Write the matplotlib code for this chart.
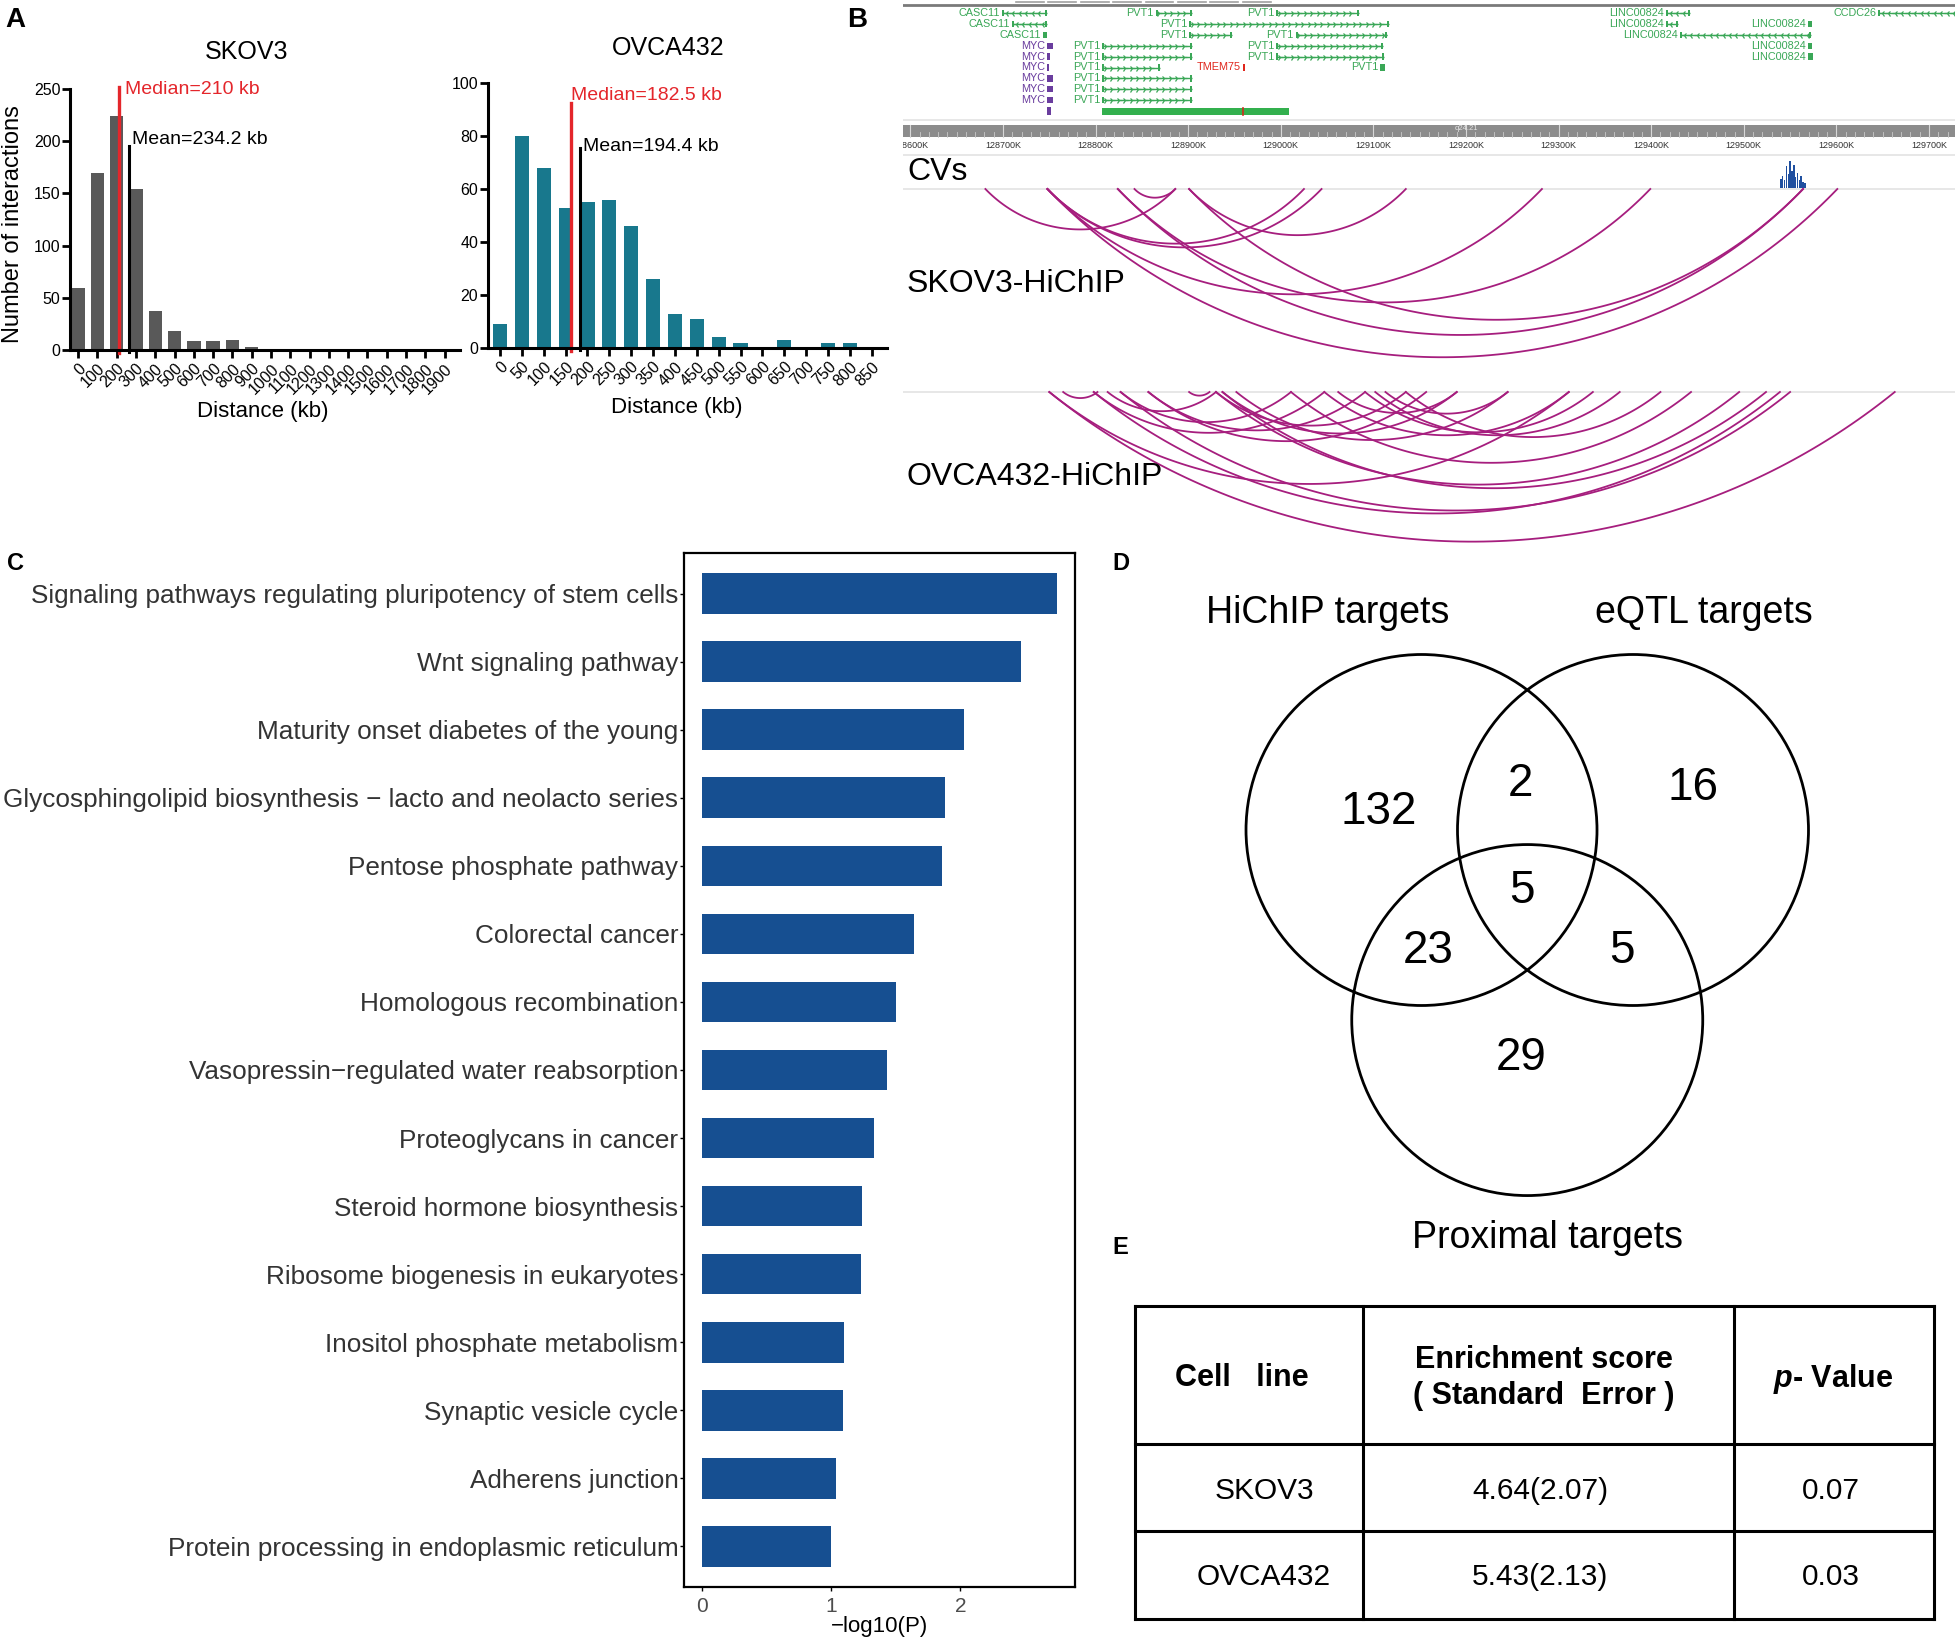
import numpy as np
import matplotlib
matplotlib.use("Agg")
import matplotlib.pyplot as plt
from matplotlib.patches import Circle, Rectangle

plt.rcParams['font.family'] = ['Liberation Sans', 'DejaVu Sans']
plt.rcParams['mathtext.fontset'] = 'custom'
plt.rcParams['mathtext.it'] = 'Liberation Sans:italic:bold'
plt.rcParams['mathtext.rm'] = 'Liberation Sans'

W, H = 1955, 1645

# ---------------- data ----------------
# A: interaction distance histograms
skov3_bins = list(range(0, 2000, 100))
skov3_counts = [59, 170, 224, 154, 37, 18, 9, 9, 10, 3, 0, 1, 1, 1, 0, 0, 0, 0, 0, 0]
skov3_median, skov3_mean = 210, 234.2
skov3_line_pos = [2.12, 2.62]      # where the median / mean bars sit on the bin axis
skov3_line_top = [252, 195]

ovca_bins = list(range(0, 900, 50))
ovca_counts = [9, 80, 68, 53, 55, 56, 46, 26, 13, 11, 4, 2, 0, 3, 0, 2, 2, 0]
ovca_median, ovca_mean = 182.5, 194.4
ovca_line_pos = [3.23, 3.65]
ovca_line_top = [92.4, 75.5]

# B: genome browser (positions in kb on chr8)
genes = [  # name, colour key, row, start, end, strand
    ("CASC11", "g", 0, 128699, 128748, -1), ("PVT1", "g", 0, 128865, 128904, 1),
    ("PVT1", "g", 0, 128995, 129084, 1), ("LINC00824", "g", 0, 129416, 129442, -1),
    ("CCDC26", "g", 0, 129645, 129760, -1),
    ("CASC11", "g", 1, 128710, 128748, -1), ("PVT1", "g", 1, 128901, 129117, 1),
    ("LINC00824", "g", 1, 129416, 129429, -1), ("LINC00824", "g", 1, 129569, 129574, -1),
    ("CASC11", "g", 2, 128743, 128748, -1), ("PVT1", "g", 2, 128901, 128947, 1),
    ("PVT1", "g", 2, 129016, 129115, 1), ("LINC00824", "g", 2, 129431, 129573, -1),
    ("MYC", "p", 3, 128747, 128754, 1), ("PVT1", "g", 3, 128807, 128904, 1),
    ("PVT1", "g", 3, 128995, 129110, 1), ("LINC00824", "g", 3, 129569, 129574, -1),
    ("MYC", "p", 4, 128748, 128751, 1), ("PVT1", "g", 4, 128807, 128904, 1),
    ("PVT1", "g", 4, 128995, 129111, 1), ("LINC00824", "g", 4, 129569, 129575, -1),
    ("MYC", "p", 5, 128748, 128750, 1), ("PVT1", "g", 5, 128807, 128870, 1),
    ("TMEM75", "r", 5, 128959, 128961.5, 1), ("PVT1", "g", 5, 129107.5, 129113, 1),
    ("MYC", "p", 6, 128747, 128754, 1), ("PVT1", "g", 6, 128807, 128904, 1),
    ("MYC", "p", 7, 128747, 128754, 1), ("PVT1", "g", 7, 128807, 128904, 1),
    ("MYC", "p", 8, 128747, 128754, 1), ("PVT1", "g", 8, 128807, 128904, 1),
]
region_bar = (128807, 129008.5)
region_mark = 128959
myc_box = (128747, 128752)
ruler_ticks = list(range(128600, 129800, 100))
top_dashes = [128714, 128749, 128784, 128819, 128854, 128889, 128924, 128959]
cv_pos = [129540, 129542, 129544, 129546, 129548, 129550, 129552, 129554,
          129556, 129558, 129560, 129562, 129564, 129566]
cv_height = [9, 12, 8, 22, 14, 27, 17, 23, 11, 15, 8, 12, 6, 5]
skov3_loops = [(128681, 128886), (128842, 128886), (128748, 129025), (128748, 129044),
               (128901, 129135), (128748, 129282), (128824, 129399), (128901, 129564),
               (128824, 129564), (128748, 129601)]
ovca_loops = [(128765, 128802), (128901, 128923), (128813, 128930), (128827, 129011),
              (128798, 129047), (128857, 129091), (128930, 129135), (128937, 129190),
              (128952, 129245), (129047, 129311), (129062, 129190), (129091, 129337),
              (129102, 129366), (129113, 129245), (129135, 129410), (129011, 129443),
              (128930, 129495), (128937, 129524), (128798, 129539), (128827, 129550),
              (128750, 129663), (128750, 129311), (128857, 129157)]

# C: KEGG enrichment
kegg_terms = ["Signaling pathways regulating pluripotency of stem cells",
              "Wnt signaling pathway",
              "Maturity onset diabetes of the young",
              "Glycosphingolipid biosynthesis \u2212 lacto and neolacto series",
              "Pentose phosphate pathway",
              "Colorectal cancer",
              "Homologous recombination",
              "Vasopressin\u2212regulated water reabsorption",
              "Proteoglycans in cancer",
              "Steroid hormone biosynthesis",
              "Ribosome biogenesis in eukaryotes",
              "Inositol phosphate metabolism",
              "Synaptic vesicle cycle",
              "Adherens junction",
              "Protein processing in endoplasmic reticulum"]
kegg_logp = [2.75, 2.47, 2.03, 1.88, 1.86, 1.64, 1.50, 1.43, 1.33, 1.24, 1.23, 1.10, 1.09, 1.04, 1.00]

# D: Venn
venn_sets = ["HiChIP targets", "eQTL targets", "Proximal targets"]
venn_counts = {"100": 132, "110": 2, "010": 16, "111": 5, "101": 23, "011": 5, "001": 29}

# E: table
table_header = ["Cell   line", "Enrichment score\n( Standard  Error )", "$p$- Value"]
cell_lines = ["SKOV3", "OVCA432"]
enrich_score = [4.64, 5.43]
enrich_se = [2.07, 2.13]
p_values = ["0.07", "0.03"]

fig = plt.figure(figsize=(W / 100, H / 100), dpi=100)


def add_ax(x0, y0, x1, y1):
    return fig.add_axes([x0 / W, 1 - y1 / H, (x1 - x0) / W, (y1 - y0) / H])


def ftext(x, y, s, **kw):
    fig.text(x / W, 1 - y / H, s, **kw)


RED = '#e4262b'

# ---------------- A ----------------
def hist(ax, bins, counts, color, width, xlim, ylim, ybound, yticks, lpos, ltop, med, mean, txt):
    x = np.arange(len(counts))
    ax.bar(x, counts, width=width, color=color)
    ax.set_xlim(*xlim)
    ax.set_ylim(*ylim)
    for s in ['top', 'right']:
        ax.spines[s].set_visible(False)
    for s in ['left', 'bottom']:
        ax.spines[s].set_linewidth(2.2)
    ax.spines['left'].set_bounds(*ybound)
    ax.set_xticks(x)
    ax.set_xticklabels([str(b) for b in bins], rotation=45, ha='right',
                       rotation_mode='anchor', fontsize=11.5)
    ax.set_yticks(yticks)
    ax.tick_params(axis='y', labelsize=11.5, length=6, width=2, pad=1)
    ax.tick_params(axis='x', length=6, width=2, pad=2)
    ax.plot([lpos[0]] * 2, [-ylim[1] * 0.012, ltop[0]], color=RED, lw=2.4, clip_on=False)
    ax.plot([lpos[1]] * 2, [-ylim[1] * 0.006, ltop[1]], color='black', lw=2.2, clip_on=False)
    ax.text(txt[0], txt[1], f"Median={med:g} kb", color=RED, fontsize=14, va='center')
    ax.text(txt[2], txt[3], f"Mean={mean:g} kb", color='black', fontsize=14, va='center')


ax_a1 = add_ax(70, 76.5, 460, 350)
hist(ax_a1, skov3_bins, skov3_counts, '#595959', 0.7, (-0.42, 19.8), (0, 262), (0, 250),
     range(0, 251, 50), skov3_line_pos, skov3_line_top, skov3_median, skov3_mean,
     (2.42, 250, 2.8, 202))
ax_a2 = add_ax(488, 83.3, 887, 348)
hist(ax_a2, ovca_bins, ovca_counts, '#18788d', 0.65, (-0.55, 17.7), (0, 100), (0, 100),
     range(0, 101, 20), ovca_line_pos, ovca_line_top, ovca_median, ovca_mean,
     (3.26, 95.5, 3.78, 76))

ftext(247, 52, "SKOV3", fontsize=18, ha='center', va='center')
ftext(668, 48, "OVCA432", fontsize=18, ha='center', va='center')
ftext(13, 224, "Number of interactions", fontsize=17, rotation=90, ha='center', va='center')
ftext(263, 412, "Distance (kb)", fontsize=16, ha='center', va='center')
ftext(677, 407, "Distance (kb)", fontsize=16, ha='center', va='center')

# ---------------- B ----------------
PX_PER_KB = 0.926
kb_left = 128700 - (1003 - 903) / PX_PER_KB
kb_right = 128700 + (1955 - 1003) / PX_PER_KB
ax_b = add_ax(903, 0, 1955, 545)
ax_b.set_xlim(kb_left, kb_right)
ax_b.set_ylim(545, 0)
ax_b.axis('off')

gcol = {"g": '#3aa757', "p": '#6a3d9e', "r": '#e0261c'}
row_y = lambda r: 13 + 10.9 * r

ax_b.axhline(4.7, color='#7a7a7a', lw=2)
for d in top_dashes:
    ax_b.plot([d, d + 30], [1.6, 1.6], color='#a0a0a0', lw=1.2)

for name, c, r, s, e, strand in genes:
    y = row_y(r)
    col = gcol[c]
    if e - s > 8:
        ax_b.plot([s, e], [y, y], color=col, lw=1.0, solid_capstyle='butt')
        chev = np.arange(s + 4, e - 3, 7)
        ax_b.plot(chev, [y] * len(chev), ls='none', marker='4' if strand > 0 else '3',
                  ms=4.5, mew=0.9, color=col)
        for bx in (s, e - 2.2):
            ax_b.add_patch(Rectangle((bx, y - 3.2), 2.2, 6.4, color=col, lw=0))
    else:
        ax_b.add_patch(Rectangle((s, y - 3.2), e - s, 6.4, color=col, lw=0))
    ax_b.text(s - 2, y, name, ha='right', va='center', fontsize=7.8, color=col)

yb = row_y(9)
ax_b.add_patch(Rectangle((region_bar[0], yb - 3.5), region_bar[1] - region_bar[0], 7,
                         color='#33b04e', lw=0))
ax_b.plot([region_mark, region_mark], [yb - 3.5, yb + 3.5], color='#d12a1a', lw=1.2)
ax_b.add_patch(Rectangle((myc_box[0], yb - 4), myc_box[1] - myc_box[0], 8, color=gcol["p"], lw=0))

for yl in (120, 155, 189, 392):
    ax_b.axhline(yl, color='#e3e3e3', lw=1.2)

# ruler
ax_b.add_patch(Rectangle((kb_left, 125), kb_right - kb_left, 12, color='#8c8c8c', lw=0))
for t in np.arange(128600, 129730, 10):
    ax_b.plot([t, t], [132, 137], color='#c9c9c9', lw=0.6)
for t in ruler_ticks:
    ax_b.plot([t, t], [125, 137], color='#d8d8d8', lw=0.8)
    ax_b.text(t, 146, f"{t}K", ha='center', va='center', fontsize=6.5, color='#333333',
              clip_on=True)
ax_b.text(129200, 129, "q24.21", ha='center', va='center', fontsize=5.5, color='#e6e6e6')

# CV signal
ax_b.bar(cv_pos, [-h for h in cv_height], bottom=188, width=1.6, color='#1f4f9f')


def arcs(loops, top, ratio):
    for a, b in loops:
        span = (b - a) * PX_PER_KB
        d = ratio * span
        h = span / 2
        R = (h ** 2 + d ** 2) / (2 * d)
        th = np.arcsin(h / R)
        t = np.linspace(-th, th, 120)
        xs = (a + b) / 2 + R * np.sin(t) / PX_PER_KB
        ys = top + d - R + R * np.cos(t)
        ax_b.plot(xs, ys, color='#a61e7e', lw=1.3)


arcs(skov3_loops, 189, 0.213)
arcs(ovca_loops, 392, 0.177)

ftext(907, 172, "CVs", fontsize=23, va='center')
ftext(907, 284, "SKOV3-HiChIP", fontsize=23, va='center')
ftext(907, 477, "OVCA432-HiChIP", fontsize=23, va='center')

# ---------------- C ----------------
ax_c = add_ax(684, 553, 1075, 1587)
pos = np.arange(1, len(kegg_logp) + 1)
ax_c.barh(pos, kegg_logp, height=0.6, color='#164f91')
ax_c.set_ylim(len(pos) + 0.6, 0.4)
ax_c.set_xlim(-0.05 * max(kegg_logp), 1.05 * max(kegg_logp))
ax_c.set_yticks(pos)
ax_c.set_yticklabels(kegg_terms, fontsize=18.8, color='#333333')
ax_c.set_xticks([0, 1, 2])
ax_c.tick_params(axis='x', labelsize=15, labelcolor='#4d4d4d', length=3, width=1, pad=4)
ax_c.tick_params(axis='y', length=3, width=1, pad=1)
ax_c.set_xlabel("\u2212log10(P)", fontsize=16, labelpad=0)
for s in ax_c.spines.values():
    s.set_linewidth(1.6)

# ---------------- D ----------------
R_PX = 175.5
ax_d = add_ax(1100, 560, 1955, 1270)
ax_d.set_xlim((1100 - 1527.25) / R_PX, (1955 - 1527.25) / R_PX)
ax_d.set_ylim((830 - 1270) / R_PX, (830 - 560) / R_PX)
ax_d.axis('off')
for cx, cy in [(-0.6025, 0), (0.6025, 0), (0, -1.083)]:
    ax_d.add_patch(Circle((cx, cy), 1.0, fill=False, lw=2, ec='black'))
count_xy = {"100": (-0.845, 0.10), "110": (-0.04, 0.26), "010": (0.947, 0.24),
            "111": (-0.03, -0.35), "101": (-0.563, -0.69), "011": (0.539, -0.69),
            "001": (-0.035, -1.30)}
for k, v in venn_counts.items():
    ax_d.text(*count_xy[k], str(v), fontsize=33, ha='center', va='center')
for name, xy in zip(venn_sets, [(-1.136, 1.236), (1.004, 1.236), (0.113, -2.325)]):
    ax_d.text(*xy, name, fontsize=27, ha='center', va='center')

# ---------------- E ----------------
ax_e = add_ax(1100, 1290, 1955, 1645)
ax_e.set_xlim(1100, 1955)
ax_e.set_ylim(1645, 1290)
ax_e.axis('off')
col_edges = [1135, 1363, 1734, 1934]
row_edges = [1306, 1444, 1531, 1619]
for xe in col_edges:
    ax_e.plot([xe, xe], [row_edges[0], row_edges[-1]], color='black', lw=2.2)
for ye in row_edges:
    ax_e.plot([col_edges[0], col_edges[-1]], [ye, ye], color='black', lw=2.2)
ax_e.text(1242, 1378, table_header[0], fontsize=22, fontweight='bold', ha='center', va='center')
ax_e.text(1544, 1378, table_header[1], fontsize=22, fontweight='bold', ha='center', va='center',
          linespacing=1.25)
ax_e.text(1833, 1379, table_header[2], fontsize=22, fontweight='bold', ha='center', va='center')
for i, (cl, es, se, p) in enumerate(zip(cell_lines, enrich_score, enrich_se, p_values)):
    y = [1491, 1577][i]
    ax_e.text(1264, y, cl, fontsize=21.5, ha='center', va='center')
    ax_e.text(1540, y, f"{es:.2f}({se:.2f})", fontsize=21.5, ha='center', va='center')
    ax_e.text(1831, y, p, fontsize=21.5, ha='center', va='center')

# panel letters
for lab, x, y, fs in [("A", 15, 20, 20), ("B", 857, 20, 20), ("C", 15, 563, 17),
                      ("D", 1121, 563, 17), ("E", 1120, 1248, 17)]:
    ftext(x, y, lab, fontsize=fs, fontweight='bold', ha='center', va='center')

fig.savefig("out.png", dpi=100)
